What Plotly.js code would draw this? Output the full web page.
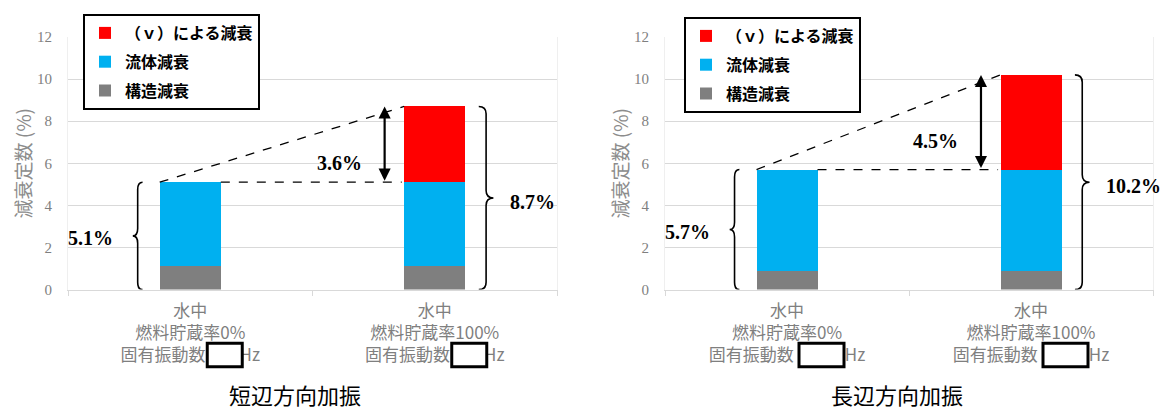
<!DOCTYPE html>
<html><head><meta charset="utf-8">
<script src="https://cdn.plot.ly/plotly-3.0.1.min.js"></script>
<style>body{margin:0;background:#fff}#chart{width:1167px;height:415px}</style>
</head><body><div id="chart"></div>
<script>
// ---- data ----
const panelTitles = ['短辺方向加振', '長辺方向加振'];
const seriesNames = ['構造減衰', '流体減衰', '（ｖ）による減衰'];
const seriesColors = ['#7f7f7f', '#00b0f0', '#ff0000'];
const legendRanks = [3, 2, 1];
const catLine1 = '水中';
const storageRates = ['燃料貯蔵率0%', '燃料貯蔵率100%'];
const freqLabel = '固有振動数';
const freqUnit = 'Hz';
const yTitle = '減衰定数 (%)';

const shortStructural = [1.1, 1.1];
const shortFluid = [4.0, 4.0];
const shortV = [0, 3.6];

const longStructural = [0.9, 0.9];
const longFluid = [4.8, 4.8];
const longV = [0, 4.5];

const panels = [
  {series: [shortStructural, shortFluid, shortV], gap: '\u3000\u3000', box: [17, 52]},
  {series: [longStructural, longFluid, longV], gap: '\u3000\u3000\u3000', box: [12, 57]}
];

// ---- build ----
const BW = 0.25;
const traces = [];
const shapes = [];
const annotations = [];
const layout = {
  width: 1167, height: 415,
  margin: {l: 0, r: 0, t: 0, b: 0},
  paper_bgcolor: '#fff', plot_bgcolor: '#fff',
  barmode: 'stack',
  font: {family: 'Noto Sans CJK JP', color: '#7f7f7f'},
  showlegend: true
};
const xDomains = [[68/1167, 557/1167], [665/1167, 1153/1167]];
const yDomain = [(415-289.5)/415, (415-37)/415];
const legendX = [83/1167, 684/1167];
const legendY = [(415-14)/415, (415-17)/415];
const titleX = [295/1167, 897/1167];

panels.forEach((p, i) => {
  const xa = i === 0 ? 'x' : 'x2';
  const ya = i === 0 ? 'y' : 'y2';
  const lg = i === 0 ? 'legend' : 'legend2';
  p.series.forEach((vals, s) => {
    traces.push({
      type: 'bar', x: [0, 1], y: vals, name: seriesNames[s],
      marker: {color: seriesColors[s], line: {width: 0}},
      width: BW, xaxis: xa, yaxis: ya, legend: lg, legendrank: legendRanks[s],
      legendgroup: 'g' + i + s, hoverinfo: 'y+name'
    });
  });
  const tot = [0, 1].map(k => p.series.reduce((a, v) => a + v[k], 0));
  const lo = tot[0], hi = tot[1];
  const ticktext = [0, 1].map(k => catLine1 + '<br>' + storageRates[k] + '<br>' + freqLabel + p.gap + freqUnit);
  const xKey = i === 0 ? 'xaxis' : 'xaxis2';
  const yKey = i === 0 ? 'yaxis' : 'yaxis2';
  layout[xKey] = {
    domain: xDomains[i], anchor: ya, range: [-0.5, 1.5], fixedrange: true,
    tickmode: 'array', tickvals: [0, 1], ticktext: ticktext,
    ticks: '', showgrid: false, zeroline: false,
    showline: true, linecolor: '#d9d9d9', linewidth: 1,
    tickfont: {family: 'Noto Sans CJK JP', size: 17, color: '#7f7f7f'},
    ticklabelstandoff: 6,
    minor: {tickmode: 'array', tickvals: [-0.5, 0.5, 1.5], ticks: 'outside', ticklen: 5, tickcolor: '#d9d9d9', tickwidth: 1, showgrid: false}
  };
  layout[yKey] = {
    domain: yDomain, anchor: xa, range: [0, 12], dtick: 2, tick0: 0, fixedrange: true,
    showgrid: true, gridcolor: '#d9d9d9', gridwidth: 1, zeroline: false,
    showline: true, mirror: true, linecolor: '#efefef', linewidth: 1,
    ticks: '', ticklabelstandoff: 12,
    tickfont: {family: 'Liberation Serif', size: 15, color: '#7f7f7f'},
    title: {text: yTitle, font: {family: 'Noto Sans CJK JP', size: 19, color: '#8c8c8c'}, standoff: 0}
  };
  layout[lg] = {
    x: legendX[i], y: legendY[i], xanchor: 'left', yanchor: 'top',
    bgcolor: '#fff', bordercolor: '#000', borderwidth: 2,
    traceorder: 'grouped', tracegroupgap: 5,
    font: {family: 'Noto Sans CJK JP', size: 16, weight: 'bold', color: '#000'}
  };
  const dash = {color: '#000', width: 1.3, dash: 'dash'};
  shapes.push({type: 'line', xref: xa, yref: ya, x0: -BW/2, y0: lo, x1: 1 - BW/2, y1: hi, line: dash});
  shapes.push({type: 'line', xref: xa, yref: ya, x0: BW/2, y0: lo, x1: 0.865, y1: lo, line: dash});
  // braces
  function brace(xc, y0, y1, w, dir) {
    const r = 0.35, ym = (y0 + y1) / 2;
    const xo = xc - dir * w / 2, xt = xc + dir * w / 2;
    return `M${xo},${y1} Q${xc},${y1} ${xc},${y1 - r} L${xc},${ym + r} Q${xc},${ym} ${xt},${ym} ` +
           `Q${xc},${ym} ${xc},${ym - r} L${xc},${y0 + r} Q${xc},${y0} ${xo},${y0}`;
  }
  const bline = {color: '#000', width: 1.6};
  shapes.push({type: 'path', xref: xa, yref: ya, path: brace(-0.215, 0, lo, 0.04, -1), line: bline});
  shapes.push({type: 'path', xref: xa, yref: ya, path: brace(1.21, 0, hi, 0.06, 1), line: bline});
  // redaction boxes under tick labels
  [0, 1].forEach(k => {
    shapes.push({type: 'rect', xref: xa, xsizemode: 'pixel', xanchor: k, x0: p.box[0], x1: p.box[1],
      yref: 'paper', y0: (415-366.8)/415, y1: (415-343.2)/415,
      line: {color: '#000', width: 3}, fillcolor: '#fff', layer: 'above'});
  });
  const lblFont = {family: 'Liberation Serif', size: 20, weight: 'bold', color: '#000'};
  annotations.push({xref: xa, yref: ya, x: 0.795, y: hi, ax: 0.795, ay: lo, axref: xa, ayref: ya,
    text: '', showarrow: true, arrowhead: 2, startarrowhead: 2, arrowside: 'end+start',
    arrowsize: 1.1, startarrowsize: 1.1, arrowwidth: 2.2, arrowcolor: '#000', standoff: 0, startstandoff: 0});
  annotations.push({xref: xa, yref: ya, x: 0.61, y: (lo + hi) / 2 - 0.9, text: (hi - lo).toFixed(1) + '%',
    showarrow: false, font: lblFont, xanchor: 'center', yanchor: 'middle'});
  annotations.push({xref: xa, yref: ya, x: -0.307, y: lo / 2 - 0.1, text: lo.toFixed(1) + '%',
    showarrow: false, font: lblFont, xanchor: 'right', yanchor: 'middle'});
  annotations.push({xref: xa, yref: ya, x: 1.30, y: hi / 2 - 0.2, text: hi.toFixed(1) + '%',
    showarrow: false, font: lblFont, xanchor: 'left', yanchor: 'middle'});
  annotations.push({xref: 'paper', yref: 'paper', x: titleX[i], y: 3/415, text: panelTitles[i],
    showarrow: false, font: {family: 'Noto Sans CJK JP', size: 22, color: '#000'}, xanchor: 'center', yanchor: 'bottom'});
});
layout.shapes = shapes;
layout.annotations = annotations;
Plotly.newPlot('chart', traces, layout, {displayModeBar: false, staticPlot: true});
</script>
</body></html>
